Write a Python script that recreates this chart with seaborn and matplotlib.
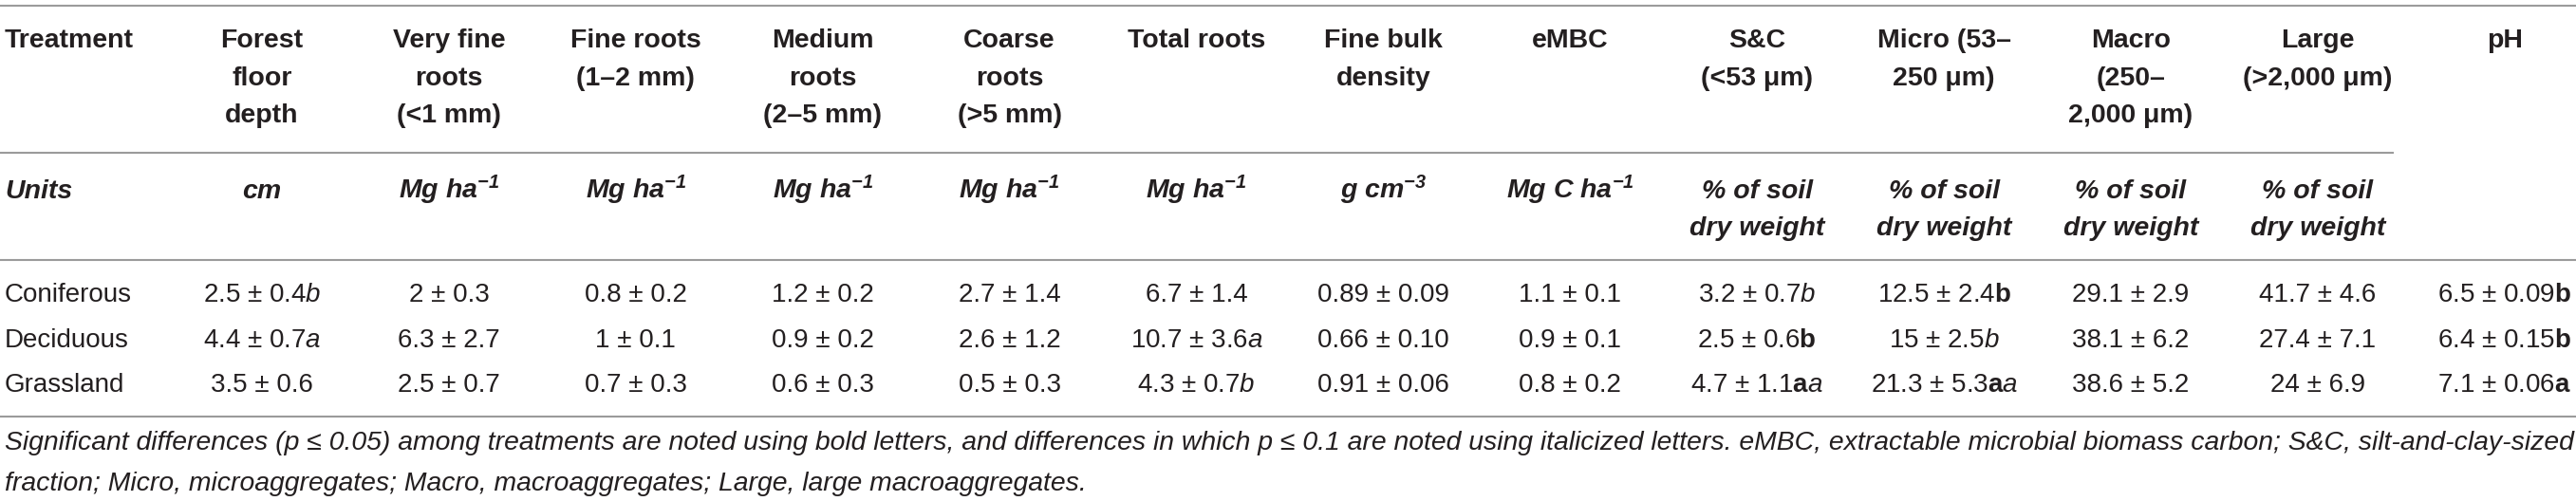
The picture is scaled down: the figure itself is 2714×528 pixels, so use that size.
import matplotlib
matplotlib.use("Agg")
import matplotlib.pyplot as plt
import seaborn as sns

# ---- table content ----
treatments = ["Coniferous", "Deciduous", "Grassland"]

header_lines = [
    ["Forest", "floor", "depth"],
    ["Very fine", "roots", "(<1 mm)"],
    ["Fine roots", "(1–2 mm)"],
    ["Medium", "roots", "(2–5 mm)"],
    ["Coarse", "roots", "(>5 mm)"],
    ["Total roots"],
    ["Fine bulk", "density"],
    ["eMBC"],
    ["S&C", "(<53 μm)"],
    ["Micro (53–", "250 μm)"],
    ["Macro", "(250–", "2,000 μm)"],
    ["Large", "(>2,000 μm)"],
    ["pH"],
]

mg_ha = r"Mg ha$^{\mathsf{-1}}$"
pct = ["% of soil", "dry weight"]
unit_lines = [
    ["cm"],
    [mg_ha], [mg_ha], [mg_ha], [mg_ha], [mg_ha],
    [r"g cm$^{\mathsf{-3}}$"],
    [r"Mg C ha$^{\mathsf{-1}}$"],
    pct, pct, pct, pct,
    [],
]

forest_floor = ["2.5 ± 0.4$\\mathit{b}$", "4.4 ± 0.7$\\mathit{a}$", "3.5 ± 0.6"]
very_fine_roots = ["2 ± 0.3", "6.3 ± 2.7", "2.5 ± 0.7"]
fine_roots = ["0.8 ± 0.2", "1 ± 0.1", "0.7 ± 0.3"]
medium_roots = ["1.2 ± 0.2", "0.9 ± 0.2", "0.6 ± 0.3"]
coarse_roots = ["2.7 ± 1.4", "2.6 ± 1.2", "0.5 ± 0.3"]
total_roots = ["6.7 ± 1.4", "10.7 ± 3.6$\\mathit{a}$", "4.3 ± 0.7$\\mathit{b}$"]
bulk_density = ["0.89 ± 0.09", "0.66 ± 0.10", "0.91 ± 0.06"]
embc = ["1.1 ± 0.1", "0.9 ± 0.1", "0.8 ± 0.2"]
silt_clay = ["3.2 ± 0.7$\\mathit{b}$", "2.5 ± 0.6$\\mathbf{b}$",
             "4.7 ± 1.1$\\mathbf{a}\\mathit{a}$"]
micro = ["12.5 ± 2.4$\\mathbf{b}$", "15 ± 2.5$\\mathit{b}$",
         "21.3 ± 5.3$\\mathbf{a}\\mathit{a}$"]
macro = ["29.1 ± 2.9", "38.1 ± 6.2", "38.6 ± 5.2"]
large = ["41.7 ± 4.6", "27.4 ± 7.1", "24 ± 6.9"]
ph = ["6.5 ± 0.09$\\mathbf{b}$", "6.4 ± 0.15$\\mathbf{b}$", "7.1 ± 0.06$\\mathbf{a}$"]

columns = [forest_floor, very_fine_roots, fine_roots, medium_roots, coarse_roots,
           total_roots, bulk_density, embc, silt_clay, micro, macro, large, ph]

footnote = [
    "Significant differences (p ≤ 0.05) among treatments are noted using bold letters, "
    "and differences in which p ≤ 0.1 are noted using italicized letters. eMBC, "
    "extractable microbial biomass carbon; S&C, silt-and-clay-sized",
    "fraction; Micro, microaggregates; Macro, macroaggregates; Large, large macroaggregates.",
]

# ---- style ----
sns.set_theme(style="white")
plt.rcParams["font.family"] = ["Liberation Sans", "DejaVu Sans"]
plt.rcParams["mathtext.fontset"] = "custom"
plt.rcParams["mathtext.rm"] = "Liberation Sans"
plt.rcParams["mathtext.it"] = "Liberation Sans:italic"
plt.rcParams["mathtext.bf"] = "Liberation Sans:bold"
plt.rcParams["mathtext.sf"] = "Liberation Sans:bold:italic"

ink = "#231f20"
rule = "#9b9b9b"
fs_head = 20.5
fs_data = 20

W, H = 2714, 528
fig = plt.figure(figsize=(W / 100, H / 100), dpi=100)
ax = fig.add_axes([0, 0, 1, 1])
ax.set_xlim(0, W)
ax.set_ylim(H, 0)
ax.axis("off")

col_x = [276 + 196.9 * i for i in range(len(columns))]
left_x = 5
line_gap = 39.5

# rules
ax.hlines(6, 0, W, color=rule, lw=1.5)
ax.hlines(161, 0, 2522, color=rule, lw=1.5)
ax.hlines(274, 0, W, color=rule, lw=1.5)
ax.hlines(439, 0, W, color=rule, lw=1.5)

# header
ax.text(left_x, 50, "Treatment", ha="left", va="baseline", fontsize=fs_head,
        fontweight="bold", color=ink)
for x, lines in zip(col_x, header_lines):
    for k, s in enumerate(lines):
        ax.text(x, 50 + k * line_gap, s, ha="center", va="baseline",
                fontsize=fs_head, fontweight="bold", color=ink)

# units row
ax.text(left_x, 209, "Units", ha="left", va="baseline", fontsize=fs_head,
        fontweight="bold", fontstyle="italic", color=ink)
for x, lines in zip(col_x, unit_lines):
    for k, s in enumerate(lines):
        ax.text(x, 209 + k * line_gap, s, ha="center", va="baseline",
                fontsize=fs_head, fontweight="bold", fontstyle="italic", color=ink)

# data rows
row_y = [318, 366, 413]
for y, name in zip(row_y, treatments):
    ax.text(left_x, y, name, ha="left", va="baseline", fontsize=fs_data, color=ink)
for x, vals in zip(col_x, columns):
    for y, s in zip(row_y, vals):
        ax.text(x, y, s, ha="center", va="baseline", fontsize=fs_data, color=ink)

# footnote, first line stretched to the full table width like the justified original
renderer = fig.canvas.get_renderer()
t1 = ax.text(left_x, 474, footnote[0], ha="left", va="baseline", fontsize=fs_data,
             fontstyle="italic", color=ink)
fs_note = fs_data * (W - 2 * left_x) / t1.get_window_extent(renderer).width
t1.set_fontsize(fs_note)
ax.text(left_x, 517, footnote[1], ha="left", va="baseline", fontsize=fs_note,
        fontstyle="italic", color=ink)

fig.savefig("out.png", dpi=100)
